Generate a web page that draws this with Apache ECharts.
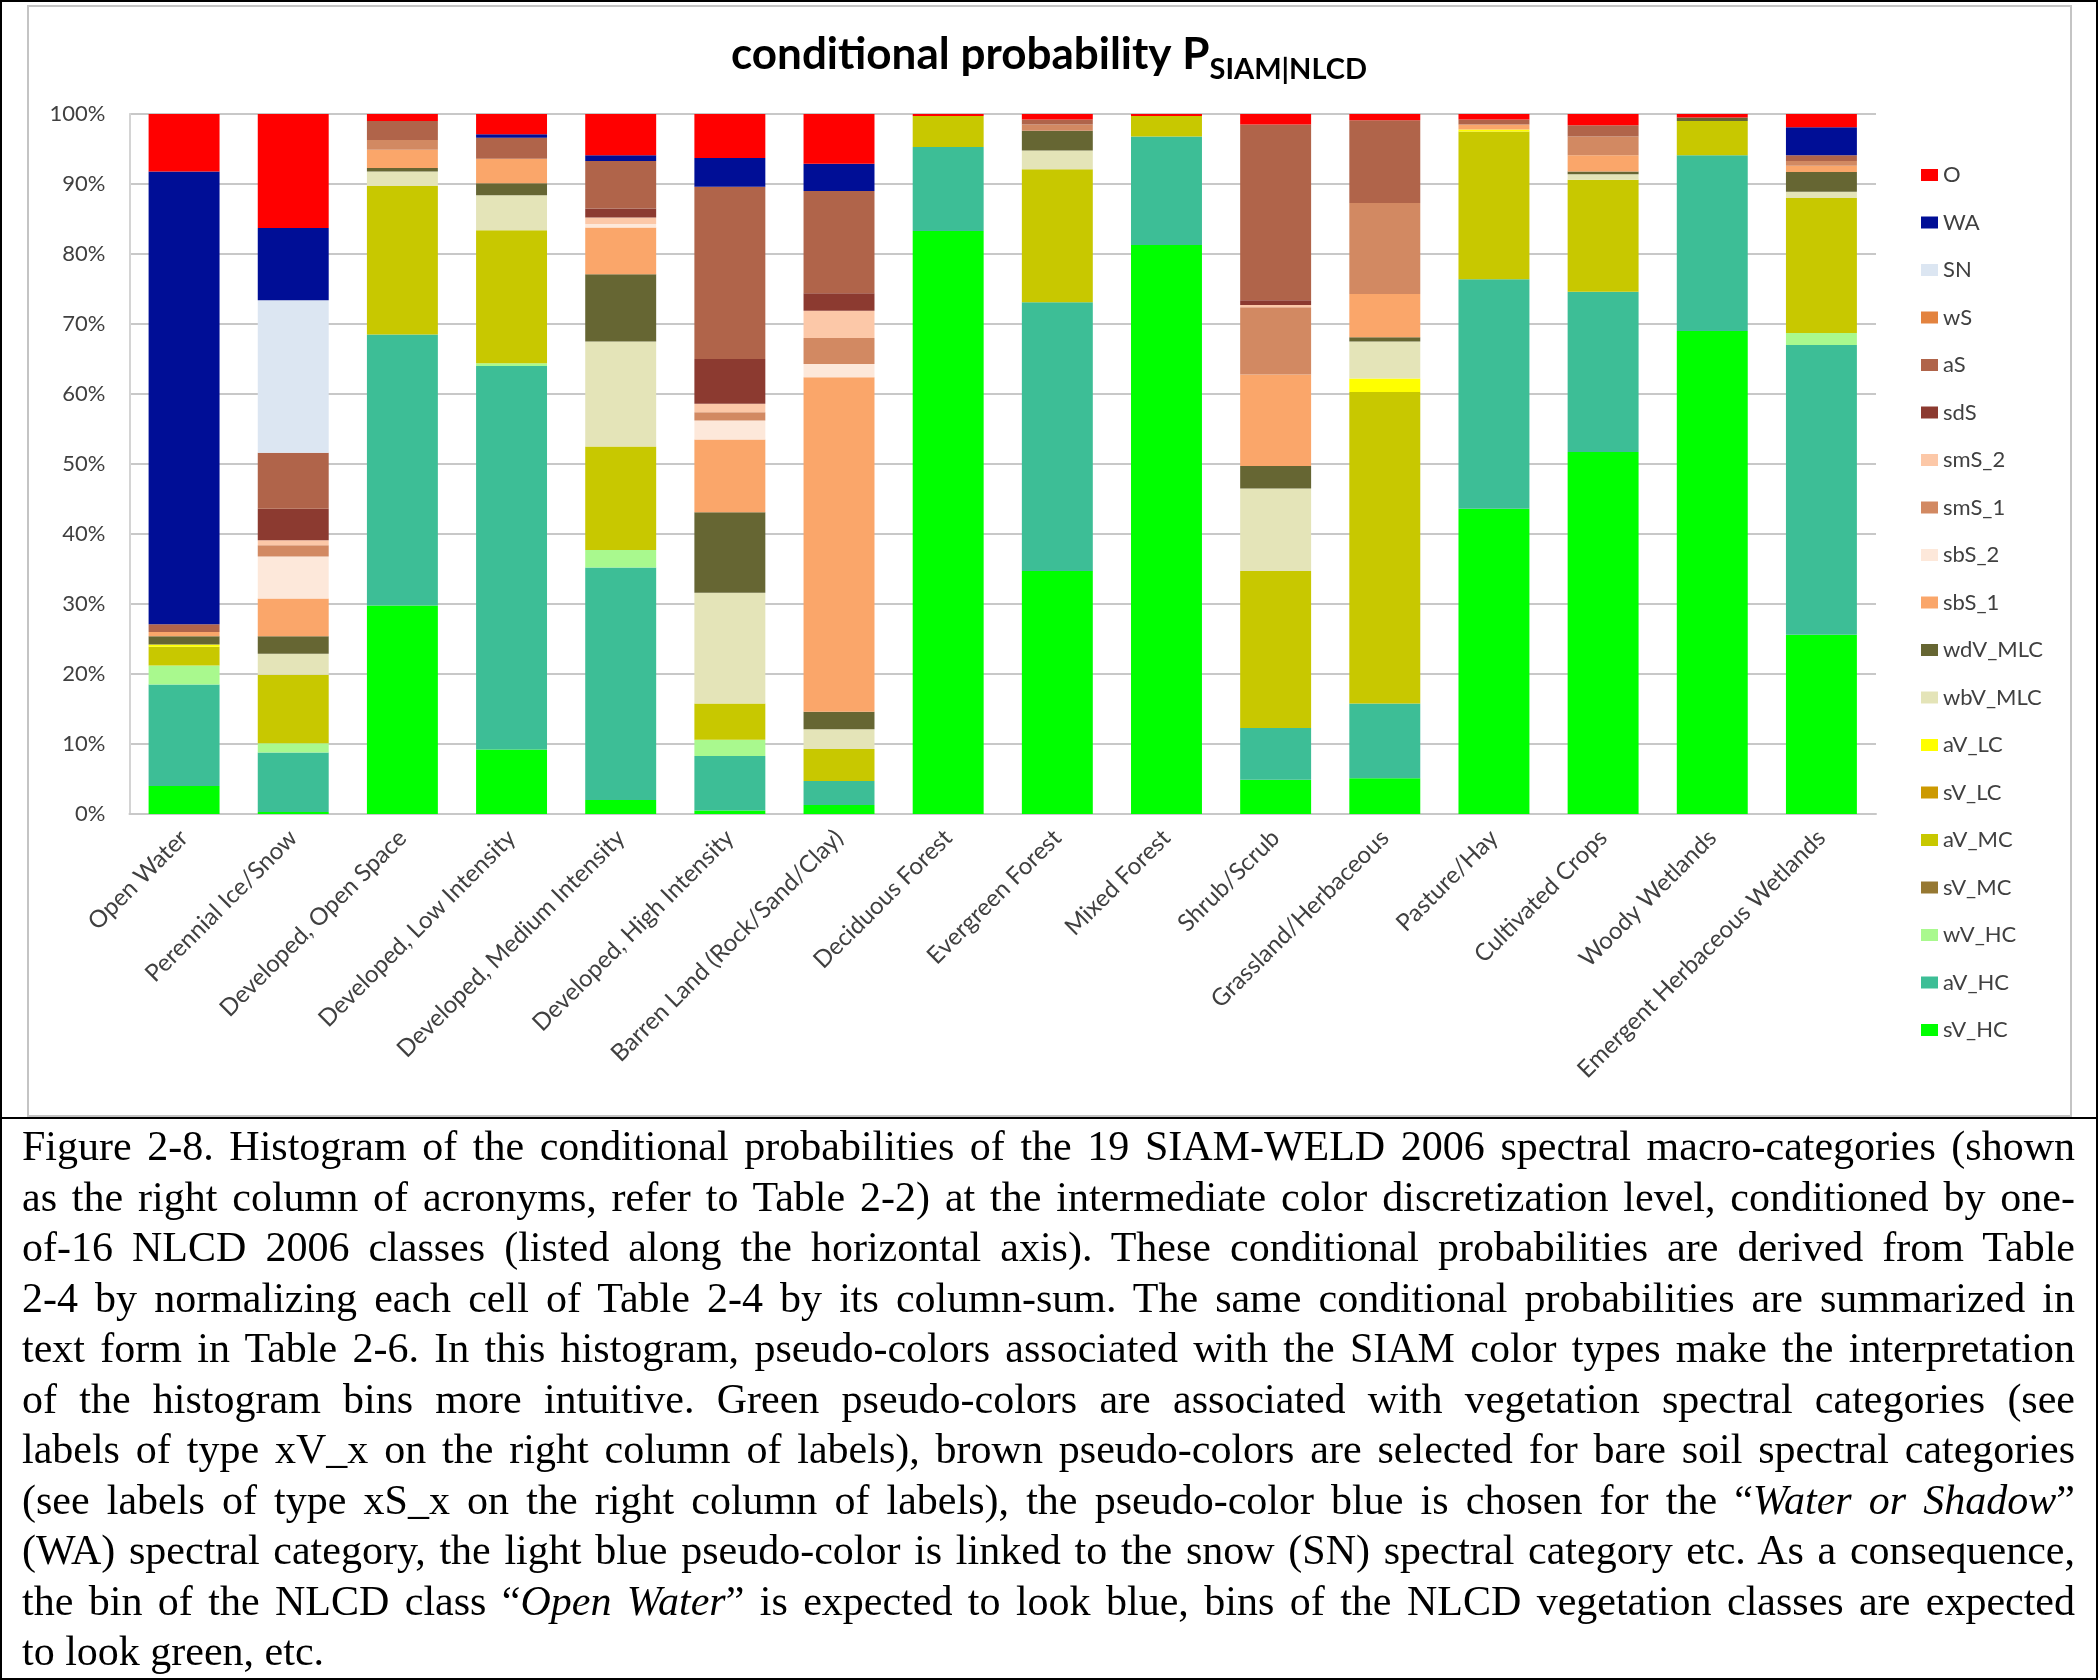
<!DOCTYPE html>
<html>
<head>
<meta charset="utf-8">
<script src="https://cdn.jsdelivr.net/npm/echarts@6/dist/echarts.min.js"></script>
<style>
html,body{margin:0;padding:0;background:#fff;}
#page{position:relative;width:2098px;height:1680px;overflow:hidden;background:#fff;}
#chart{position:absolute;left:0;top:0;width:2098px;height:1116px;}
#outer{position:absolute;left:0;top:0;width:2094px;height:1676px;border:2px solid #000;pointer-events:none;}
#sep{position:absolute;left:0;top:1117px;width:2098px;height:2px;background:#000;}
#frame{position:absolute;left:27px;top:5px;width:2041px;height:1108px;border:2px solid #c4c4c4;pointer-events:none;}
#caption{position:absolute;left:22px;top:1121px;width:2053px;font-family:"Liberation Serif","Times New Roman",serif;font-size:42px;line-height:50.5px;color:#000;}
.ln{white-space:nowrap;}
.ln span{display:inline-block;white-space:nowrap;}
</style>
</head>
<body>
<div id="page">
  <div id="chart"></div>
  <div id="frame"></div>
  <div id="sep"></div>
  <div id="outer"></div>
  <div id="caption">
    <div class="ln"><span>Figure 2-8. Histogram of the conditional probabilities of the 19 SIAM-WELD 2006 spectral macro-categories (shown</span></div>
    <div class="ln"><span>as the right column of acronyms, refer to Table 2-2) at the intermediate color discretization level, conditioned by one-</span></div>
    <div class="ln"><span>of-16 NLCD 2006 classes (listed along the horizontal axis). These conditional probabilities are derived from Table</span></div>
    <div class="ln"><span>2-4 by normalizing each cell of Table 2-4 by its column-sum. The same conditional probabilities are summarized in</span></div>
    <div class="ln"><span>text form in Table 2-6. In this histogram, pseudo-colors associated with the SIAM color types make the interpretation</span></div>
    <div class="ln"><span>of the histogram bins more intuitive. Green pseudo-colors are associated with vegetation spectral categories (see</span></div>
    <div class="ln"><span>labels of type xV_x on the right column of labels), brown pseudo-colors are selected for bare soil spectral categories</span></div>
    <div class="ln"><span>(see labels of type xS_x on the right column of labels), the pseudo-color blue is chosen for the “<i>Water or Shadow</i>”</span></div>
    <div class="ln"><span>(WA) spectral category, the light blue pseudo-color is linked to the snow (SN) spectral category etc. As a consequence,</span></div>
    <div class="ln"><span>the bin of the NLCD class “<i>Open Water</i>” is expected to look blue, bins of the NLCD vegetation classes are expected</span></div>
    <div class="ln last"><span>to look green, etc.</span></div>
  </div>
</div>
<script>
// ---- categories (NLCD classes) ----
const categories = ['Open Water', 'Perennial Ice/Snow', 'Developed, Open Space', 'Developed, Low Intensity',
  'Developed, Medium Intensity', 'Developed, High Intensity', 'Barren Land (Rock/Sand/Clay)', 'Deciduous Forest',
  'Evergreen Forest', 'Mixed Forest', 'Shrub/Scrub', 'Grassland/Herbaceous', 'Pasture/Hay', 'Cultivated Crops',
  'Woody Wetlands', 'Emergent Herbaceous Wetlands'];

// ---- y tick labels ----
const yTicks = ['0%', '10%', '20%', '30%', '40%', '50%', '60%', '70%', '80%', '90%', '100%'];

// ---- series values (percent), bottom of stack first ----
const sV_HC   = [4.0, 0.3, 29.8, 9.2, 2.0, 0.5, 1.3, 83.3, 34.7, 81.3, 4.9, 5.1, 43.6, 51.7, 69.0, 25.6];
const aV_HC   = [14.5, 8.5, 38.7, 54.8, 33.2, 7.8, 3.4, 12.0, 38.4, 15.5, 7.4, 10.7, 32.8, 22.9, 25.1, 41.4];
const wV_HC   = [2.7, 1.3, 0, 0.4, 2.5, 2.3, 0, 0, 0, 0, 0, 0, 0, 0, 0, 1.7];
const sV_MC   = [0, 0, 0, 0, 0, 0, 0, 0, 0, 0, 0, 0, 0, 0, 0, 0];
const aV_MC   = [2.7, 9.8, 21.2, 19.0, 14.8, 5.2, 4.6, 4.4, 19.0, 2.9, 22.4, 44.5, 21.1, 16.0, 4.9, 19.3];
const sV_LC   = [0, 0, 0, 0, 0, 0, 0, 0, 0, 0, 0, 0, 0, 0, 0, 0];
const aV_LC   = [0.3, 0, 0, 0, 0, 0, 0, 0, 0, 0, 0, 1.9, 0.3, 0, 0, 0];
const wbV_MLC = [0, 3.0, 2.1, 5.0, 15.0, 15.8, 2.8, 0, 2.7, 0, 11.8, 5.3, 0, 0.8, 0, 0.9];
const wdV_MLC = [1.2, 2.5, 0.5, 1.7, 9.6, 11.5, 2.5, 0, 2.8, 0, 3.2, 0.6, 0, 0.4, 0.5, 2.8];
const sbS_1   = [0.6, 5.4, 2.6, 3.5, 6.7, 10.4, 47.8, 0, 0, 0, 13.1, 6.2, 0.7, 2.3, 0, 0.9];
const sbS_2   = [0, 6.0, 0, 0, 0.5, 2.7, 1.9, 0, 0, 0, 0, 0, 0, 0, 0, 0];
const smS_1   = [0, 1.6, 1.4, 0, 0, 1.2, 3.7, 0, 0.9, 0, 9.6, 13.0, 0, 2.7, 0, 0.7];
const smS_2   = [0, 0.7, 0, 0, 0.9, 1.2, 3.9, 0, 0, 0, 0.3, 0, 0, 0, 0, 0];
const sdS     = [0, 4.5, 0, 0, 1.3, 6.4, 2.5, 0, 0, 0, 0.7, 0, 0, 0, 0, 0];
const aS      = [1.1, 8.0, 2.7, 3.0, 6.8, 24.6, 14.6, 0, 0.7, 0, 25.1, 11.8, 0.7, 1.6, 0, 0.8];
const wS      = [0, 0, 0, 0, 0, 0, 0, 0, 0, 0, 0, 0, 0, 0, 0, 0];
const SN      = [0, 21.8, 0, 0, 0, 0, 0, 0, 0, 0, 0, 0, 0, 0, 0, 0];
const WA      = [64.7, 10.3, 0, 0.5, 0.8, 4.1, 3.9, 0, 0, 0, 0, 0, 0, 0, 0, 4.0];
const O       = [8.2, 16.3, 1.0, 2.9, 5.9, 6.3, 7.1, 0.3, 0.8, 0.3, 1.5, 0.9, 0.8, 1.6, 0.5, 1.9];

const seriesList = [
  ['sV_HC', sV_HC, '#00FF00'],
  ['aV_HC', aV_HC, '#3DBE96'],
  ['wV_HC', wV_HC, '#A9F98E'],
  ['sV_MC', sV_MC, '#967832'],
  ['aV_MC', aV_MC, '#C8C800'],
  ['sV_LC', sV_LC, '#CC9900'],
  ['aV_LC', aV_LC, '#FFFF00'],
  ['wbV_MLC', wbV_MLC, '#E4E4B8'],
  ['wdV_MLC', wdV_MLC, '#666633'],
  ['sbS_1', sbS_1, '#FAA66A'],
  ['sbS_2', sbS_2, '#FDE8DA'],
  ['smS_1', smS_1, '#D28962'],
  ['smS_2', smS_2, '#FCC8A8'],
  ['sdS', sdS, '#8C3A30'],
  ['aS', aS, '#B0644A'],
  ['wS', wS, '#E3833F'],
  ['SN', SN, '#DCE6F2'],
  ['WA', WA, '#000E96'],
  ['O', O, '#FF0000']
];

const chart = echarts.init(document.getElementById('chart'), null, {renderer: 'canvas'});
const axisFont = 'Lato, "Noto Sans", sans-serif';

const option = {
  backgroundColor: '#ffffff',
  animation: false,
  title: {
    left: 'center',
    top: 25,
    text: '{m|conditional probability P}{s|SIAM|NLCD}',
    textStyle: {
      rich: {
        m: {fontFamily: axisFont, fontWeight: 'bold', fontSize: 44, lineHeight: 50, color: '#000'},
        s: {fontFamily: axisFont, fontWeight: 'bold', fontSize: 29, lineHeight: 30, padding: [30, 0, 0, 0], color: '#000'}
      }
    }
  },
  legend: {
    orient: 'vertical',
    left: 1916,
    top: 158,
    itemWidth: 17,
    itemHeight: 12,
    itemGap: 23.5,
    icon: 'rect',
    data: seriesList.map(s => s[0]).reverse(),
    textStyle: {fontFamily: axisFont, fontSize: 22, lineHeight: 24, color: '#404040'}
  },
  grid: {left: 129.5, top: 114, width: 1746.5, height: 700, containLabel: false},
  xAxis: {
    type: 'category',
    data: categories,
    axisLine: {show: true, lineStyle: {color: '#c8c8c8', width: 2}},
    axisTick: {show: false},
    axisLabel: {
      rotate: 45,
      interval: 0,
      margin: 20,
      fontFamily: axisFont,
      fontSize: 24,
      color: '#404040'
    }
  },
  yAxis: {
    type: 'value',
    min: 0,
    max: 100,
    interval: 10,
    axisLine: {show: true, lineStyle: {color: '#d4d4d4', width: 2}},
    axisTick: {show: false},
    splitLine: {show: true, lineStyle: {color: '#c8c8c8', width: 2}},
    axisLabel: {
      margin: 24,
      fontFamily: axisFont,
      fontSize: 22,
      color: '#404040',
      formatter: function (v) { return yTicks[Math.round(v / 10)]; }
    }
  },
  series: seriesList.map(s => ({
    name: s[0],
    type: 'bar',
    stack: 'total',
    barWidth: '65%',
    data: s[1],
    itemStyle: {color: s[2]},
    emphasis: {disabled: true}
  }))
};
chart.setOption(option);

// justify caption lines to the full box width
(function () {
  const W = 2053;
  const lines = document.querySelectorAll('#caption .ln');
  lines.forEach(function (ln) {
    if (ln.classList.contains('last')) return;
    const sp = ln.querySelector('span');
    const w = sp.getBoundingClientRect().width;
    const n = (sp.textContent.match(/ /g) || []).length;
    if (n > 0) sp.style.wordSpacing = ((W - w) / n) + 'px';
  });
})();
</script>
</body>
</html>
